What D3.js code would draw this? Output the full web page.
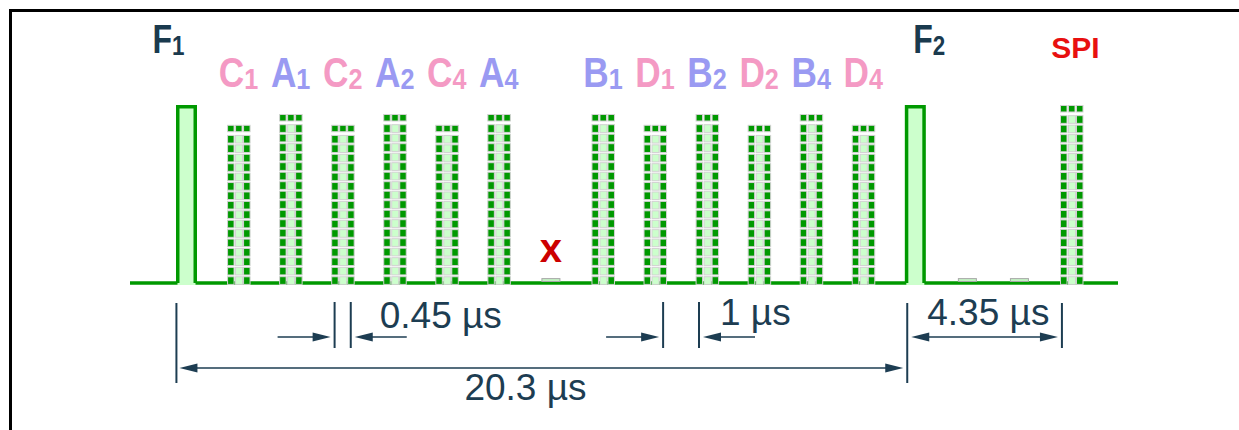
<!DOCTYPE html>
<html>
<head>
<meta charset="utf-8">
<script src="https://cdn.jsdelivr.net/npm/d3@7"></script>
<style>
  html, body { margin: 0; background: #fff; }
  svg { display: block; }
</style>
</head>
<body>
<div id="chart"></div>
<script>
// pulse train (times in µs, amplitude relative to F pulses)
const pulseTimes = [0, 1.45, 2.9, 4.35, 5.8, 7.25, 8.7, 10.15, 11.6, 13.05, 14.5, 15.95, 17.4, 18.85, 20.3, 21.75, 23.2, 24.65];
const pulseAmps  = [1, 0.89, 0.95, 0.89, 0.95, 0.89, 0.95, 0.03, 0.95, 0.89, 0.95, 0.89, 0.95, 0.89, 1, 0.03, 0.03, 1];
const pulseKinds = ['solid', 'grid', 'grid', 'grid', 'grid', 'grid', 'grid', 'blank', 'grid', 'grid', 'grid', 'grid', 'grid', 'grid', 'solid', 'blank', 'blank', 'grid'];
const labelMain  = ['F', 'C', 'A', 'C', 'A', 'C', 'A', 'x', 'B', 'D', 'B', 'D', 'B', 'D', 'F', '', '', 'SPI'];
const labelSub   = ['1', '1', '1', '2', '2', '4', '4', '', '1', '1', '2', '2', '4', '4', '2', '', '', ''];

// dimension annotations (µs)
const dimLabels = ['0.45 µs', '1 µs', '20.3 µs', '4.35 µs'];
const dimStart  = [4.125, 13.275, -0.225, 20.075];
const dimEnd    = [4.575, 14.275, 20.075, 24.425];
const dimTypes  = ['inward', 'inward', 'span', 'span'];

const width = 1239, height = 430;
const dark = '#009900', light = '#ccffcc', cellLine = '#d2d2d2', navy = '#1a3a4e';

const x = d3.scaleLinear().domain([0, 24.65]).range([186.5, 1071.5]);
const y = d3.scaleLinear().domain([0, 1]).range([285, 105]);
const baseY = 283;

const svg = d3.select('#chart').append('svg')
  .attr('width', width)
  .attr('height', height);

// frame
svg.append('path')
  .attr('d', `M10.5,${height} V10.5 H${width}`)
  .attr('fill', 'none')
  .attr('stroke', '#000')
  .attr('stroke-width', 3);

// baseline
svg.append('line')
  .attr('x1', 130).attr('x2', 1118)
  .attr('y1', baseY).attr('y2', baseY)
  .attr('stroke', dark)
  .attr('stroke-width', 3.5);

const pulses = pulseTimes.map((t, i) => ({
  t, amp: pulseAmps[i], kind: pulseKinds[i], main: labelMain[i], sub: labelSub[i]
}));

// solid F pulses
pulses.filter(d => d.kind === 'solid').forEach(d => {
  const cx = x(d.t), top = y(d.amp);
  svg.append('rect')
    .attr('x', cx - 9).attr('y', top)
    .attr('width', 18).attr('height', y(0) - top)
    .attr('fill', light);
  svg.append('path')
    .attr('d', `M${cx - 8.75},${baseY} V${top + 1.75} H${cx + 8.75} V${baseY}`)
    .attr('fill', 'none')
    .attr('stroke', dark)
    .attr('stroke-width', 3.5);
});

// gridded pulses: three columns of little cells
pulses.filter(d => d.kind === 'grid').forEach(d => {
  const cx = x(d.t), top = y(d.amp);
  const x0 = cx - 11.5;
  const rows = Math.round((y(0) - top) / 9.4);
  const pitch = (y(0) - top) / rows;
  const cols = [{ dx: 0, w: 7 }, { dx: 8, w: 7 }, { dx: 16, w: 7 }];
  const g = svg.append('g');
  d3.range(rows).forEach(r => {
    const ry = top + r * pitch;
    cols.forEach((c, ci) => {
      const isCap = r === 0;
      const mid = ci === 1 && !isCap;
      g.append('rect')
        .attr('x', x0 + c.dx + (mid ? 0.5 : 0.5))
        .attr('y', ry + (isCap ? 0.5 : 1.2))
        .attr('width', mid ? c.w : c.w - 0.5)
        .attr('height', isCap ? pitch - 3 : pitch - 1.8)
        .attr('fill', mid ? light : dark)
        .attr('stroke', cellLine)
        .attr('stroke-width', 1);
    });
  });
});

// small blank pulses
pulses.filter(d => d.kind === 'blank').forEach(d => {
  const cx = x(d.t), top = y(d.amp) - 1;
  svg.append('rect')
    .attr('x', cx - 9).attr('y', top)
    .attr('width', 18).attr('height', baseY - 1.5 - top)
    .attr('fill', '#c4f2c4')
    .attr('stroke', '#a8a8a8')
    .attr('stroke-width', 1);
});

// labels
function labelColor(m) {
  if (m === 'F') return navy;
  if (m === 'C' || m === 'D') return '#f49ac4';
  if (m === 'A' || m === 'B') return '#9a9af2';
  if (m === 'x') return '#cc0000';
  return '#e81010';
}

pulses.filter(d => d.main).forEach(d => {
  let lx = x(d.t), ly = 87, size = 42, subSize = 30, sx = 0.84;
  if (d.main === 'F') { lx += d.t === 0 ? -18 : 14; ly = 53; size = 40; subSize = 28; sx = 0.8; }
  if (d.main === 'SPI') { lx += 4; ly = 58; size = 30; sx = 1; }
  if (d.main === 'x') { ly = 262; sx = 1; size = 40; }
  const t = svg.append('text')
    .attr('transform', `translate(${lx},${ly}) scale(${sx},1)`)
    .attr('text-anchor', 'middle')
    .style('font-family', '"Liberation Sans", Arial, sans-serif')
    .style('font-weight', 'bold')
    .style('fill', labelColor(d.main));
  t.append('tspan').style('font-size', size + 'px').text(d.main);
  if (d.sub) {
    t.append('tspan')
      .attr('dy', 2)
      .style('font-size', subSize + 'px')
      .text(d.sub);
  }
});

// dimension lines
const ink = '#1d3d52';
function arrow(tipX, tipY, dir) {
  // dir = +1 points right, -1 points left
  svg.append('path')
    .attr('d', `M${tipX},${tipY} L${tipX - dir * 18},${tipY - 4.5} L${tipX - dir * 18},${tipY + 4.5} Z`)
    .attr('fill', ink);
}
function tick(tx, y1, y2) {
  svg.append('line')
    .attr('x1', tx).attr('x2', tx)
    .attr('y1', y1).attr('y2', y2)
    .attr('stroke', ink).attr('stroke-width', 2);
}
function hline(x1, x2, hy) {
  svg.append('line')
    .attr('x1', x1).attr('x2', x2)
    .attr('y1', hy).attr('y2', hy)
    .attr('stroke', ink).attr('stroke-width', 1.6);
}
const dimText = (tx, ty, anchor, s) => svg.append('text')
  .attr('x', tx).attr('y', ty)
  .attr('text-anchor', anchor)
  .style('font-family', '"Liberation Sans", Arial, sans-serif')
  .style('font-size', '37px')
  .style('fill', ink)
  .text(s);

dimLabels.forEach((lab, i) => {
  const xa = x(dimStart[i]), xb = x(dimEnd[i]);
  if (dimTypes[i] === 'inward') {
    const ay = 337;
    tick(xa, 302, 348);
    tick(xb, 302, 348);
    hline(xa - 57, xa - 10, ay);
    arrow(xa - 4, ay, 1);
    hline(xb + 10, xb + 56, ay);
    arrow(xb + 4, ay, -1);
    dimText(xb + (i === 0 ? 29 : 21), i === 0 ? 328 : 325, 'start', lab);
  } else if (i === 2) {
    const ay = 368;
    tick(xa - 2, 303, 383);
    tick(xb, 303, 383);
    hline(xa + 6, xb - 10, ay);
    arrow(xa + 1, ay, -1);
    arrow(xb - 4, ay, 1);
    dimText(xa + 286, 400, 'start', lab);
  } else {
    const ay = 337;
    tick(xb - 1.5, 303, 348);
    hline(xa + 10, xb - 12, ay);
    arrow(xa + 4, ay, -1);
    arrow(xb - 5.5, ay, 1);
    dimText((xa + xb) / 2 + 3, 325, 'middle', lab);
  }
});
</script>
</body>
</html>
